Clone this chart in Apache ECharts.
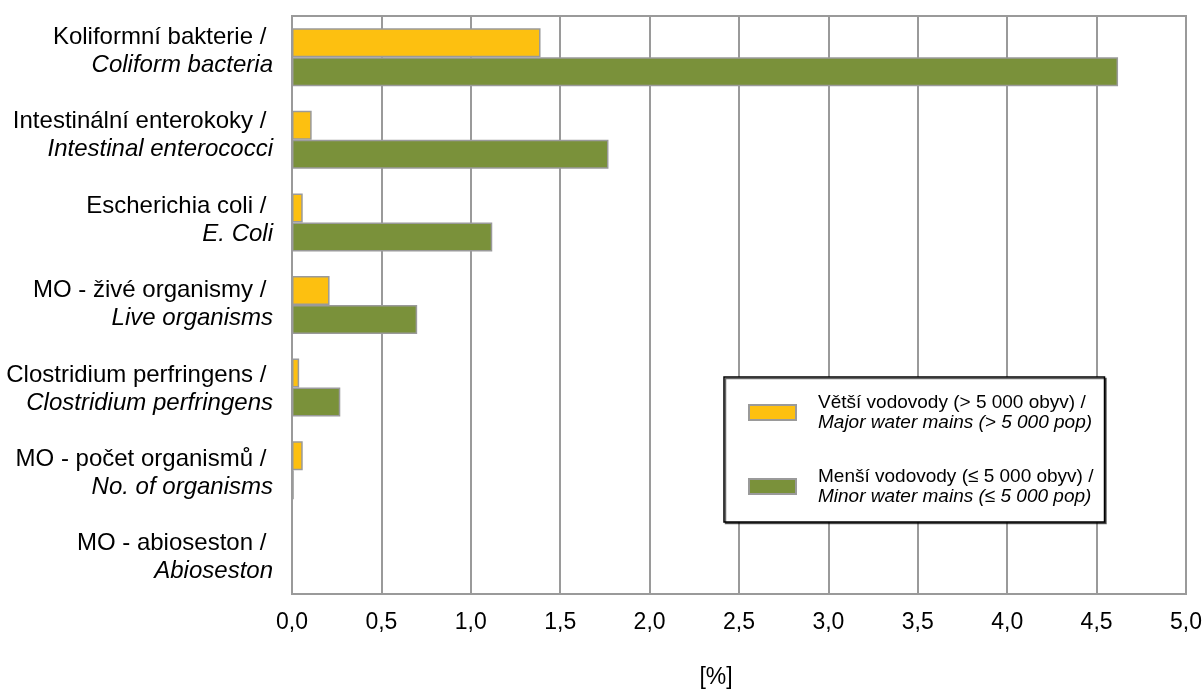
<!DOCTYPE html>
<html><head><meta charset="utf-8">
<script src="https://cdn.jsdelivr.net/npm/echarts@6/dist/echarts.min.js"></script>
<style>html,body{margin:0;padding:0;background:#fff;overflow:hidden}#c{width:1204px;height:689px}</style>
</head><body><div id="c"></div>
<script>
const categoriesCz = ['Koliformní bakterie /','Intestinální enterokoky /','Escherichia coli /','MO - živé organismy /','Clostridium perfringens /','MO - počet organismů /','MO - abioseston /'];
const categoriesEn = ['Coliform bacteria','Intestinal enterococci','E. Coli','Live organisms','Clostridium perfringens','No. of organisms','Abioseston'];
const majorValues = [1.39, 0.11, 0.06, 0.21, 0.04, 0.06, 0];
const minorValues = [4.62, 1.77, 1.12, 0.70, 0.27, 0.01, 0];
const seriesNamesCz = ['Větší vodovody (> 5 000 obyv) /','Menší vodovody (≤ 5 000 obyv) /'];
const seriesNamesEn = ['Major water mains (> 5 000 pop)','Minor water mains (≤ 5 000 pop)'];
const xTicks = ['0,0','0,5','1,0','1,5','2,0','2,5','3,0','3,5','4,0','4,5','5,0'];

const cats = categoriesCz.map((c,i)=>c+'\n'+categoriesEn[i]);
const chart = echarts.init(document.getElementById('c'));
const font = 'Liberation Sans, Arial, sans-serif';
const gridCol = '#9a9a9a';
chart.setOption({
  animation:false,
  grid:[
    {left:292,width:894,top:16,height:578,containLabel:false,outerBoundsMode:'none',show:true,borderColor:gridCol,borderWidth:2},
    {left:292,width:894,top:9,height:591,containLabel:false,outerBoundsMode:'none',show:false}
  ],
  xAxis:[
    {type:'value',gridIndex:0,min:0,max:5,interval:0.5,
     name:'[%]',nameLocation:'middle',nameGap:72,
     nameTextStyle:{fontFamily:font,fontSize:23,color:'#000',padding:[0,46,0,0]},
     axisLine:{show:true,lineStyle:{color:gridCol,width:2}},axisTick:{show:false},
     splitLine:{show:true,lineStyle:{color:gridCol,width:2}},
     axisLabel:{margin:17,fontFamily:font,fontSize:23,color:'#000',
       formatter:(v)=>xTicks[Math.round(v*2)]}},
    {type:'value',gridIndex:1,min:0,max:5,show:false}
  ],
  yAxis:[
    {type:'category',gridIndex:0,inverse:true,data:cats,
     axisLine:{show:true,lineStyle:{color:gridCol,width:2}},axisTick:{show:false},splitLine:{show:false},
     axisLabel:{show:false}},
    {type:'category',gridIndex:1,inverse:true,data:cats,
     axisLine:{show:false},axisTick:{show:false},splitLine:{show:false},
     axisLabel:{margin:19,fontFamily:font,fontSize:24,color:'#000',align:'right',
       formatter:(v)=>{const p=v.split('\n');return '{a|'+p[0]+' }\n{b|'+p[1]+'}';},
       rich:{a:{fontFamily:font,fontSize:24,color:'#000',lineHeight:28,align:'right'},
             b:{fontFamily:font,fontSize:24,color:'#000',fontStyle:'italic',lineHeight:28,align:'right'}}}}
  ],
  legend:{orient:'vertical',left:724,top:377,
    padding:[16,11,16,24],itemGap:35,itemWidth:47,itemHeight:15,
    backgroundColor:'#fff',borderColor:'#000',borderWidth:1.5,
    shadowColor:'rgba(0,0,0,0.6)',shadowOffsetX:1.5,shadowOffsetY:1.5,shadowBlur:0,
    data:[{name:'major',icon:'rect'},{name:'minor',icon:'rect'}],
    formatter:(n)=>{const i=n==='major'?0:1;return '{a|'+seriesNamesCz[i]+'}\n{b|'+seriesNamesEn[i]+'}';},
    textStyle:{padding:[0,0,0,17],rich:{a:{fontFamily:font,fontSize:19,color:'#000',lineHeight:20},
      b:{fontFamily:font,fontSize:19,color:'#000',fontStyle:'italic',lineHeight:20}}}},
  series:[
    {name:'major',type:'bar',xAxisIndex:0,yAxisIndex:0,data:majorValues,barWidth:29,barGap:'0%',
     itemStyle:{color:'#FDC010',borderColor:gridCol,borderWidth:1.5}},
    {name:'minor',type:'bar',xAxisIndex:0,yAxisIndex:0,data:minorValues,barWidth:29,barGap:'0%',
     itemStyle:{color:'#7A913A',borderColor:gridCol,borderWidth:1.5}}
  ]
});
</script></body></html>
